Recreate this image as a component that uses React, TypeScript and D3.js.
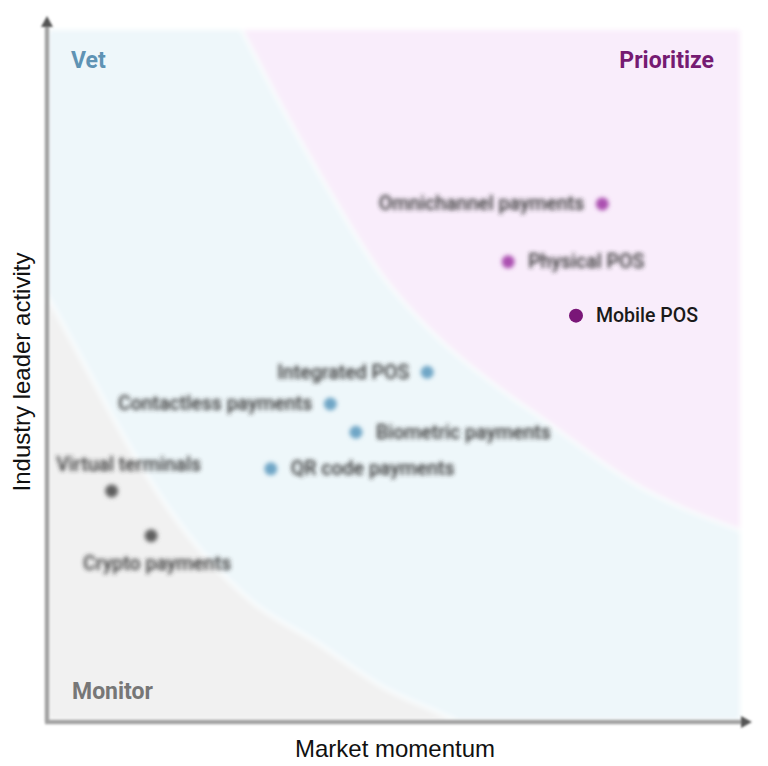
import React from 'react';
import * as d3 from 'd3';

// ---- data ----
const itemNames = [
  'Omnichannel payments',
  'Physical POS',
  'Mobile POS',
  'Integrated POS',
  'Contactless payments',
  'Biometric payments',
  'QR code payments',
  'Virtual terminals',
  'Crypto payments',
];
const itemMomentum = [8.01, 6.65, 7.63, 5.48, 4.08, 4.45, 3.22, 0.92, 1.49];
const itemActivity = [7.48, 6.64, 5.86, 5.04, 4.58, 4.17, 3.64, 3.32, 2.67];
const itemZone = ['prioritize', 'prioritize', 'prioritize', 'vet', 'vet', 'vet', 'vet', 'monitor', 'monitor'];
const itemLabelSide = ['left', 'right', 'right', 'left', 'left', 'right', 'right', 'above', 'below'];
const highlighted = ['Mobile POS'];

const prioritizeBoundaryX = [2.8, 3.35, 4.08, 4.8, 5.52, 6.49, 7.11, 8.55, 10];
const prioritizeBoundaryY = [10, 8.94, 7.64, 6.48, 5.65, 4.83, 4.39, 3.38, 2.75];
const monitorBoundaryX = [0, 0.61, 1.18, 1.76, 2.92, 3.89, 4.84, 5.66, 5.88];
const monitorBoundaryY = [6.13, 5.0, 3.96, 3.04, 1.74, 1.12, 0.48, 0.1, 0];

const zoneNames = ['Vet', 'Prioritize', 'Monitor'];
const axisTitles = ['Market momentum', 'Industry leader activity'];

const W = 768;
const H = 766;
const plot = { left: 48, right: 740, top: 30, bottom: 720 };

const zoneColors: Record<string, string> = {
  vet: '#eef7fa',
  prioritize: '#f9edfb',
  monitor: '#f1f1f1',
};
const dotColors: Record<string, string> = {
  vet: '#6fa6c6',
  prioritize: '#ab50b0',
  monitor: '#5e5e5e',
};

export default function App() {
  const x = d3.scaleLinear().domain([0, 10]).range([plot.left, plot.right]);
  const y = d3.scaleLinear().domain([0, 10]).range([plot.bottom, plot.top]);

  const line = d3
    .line<[number, number]>()
    .x((d) => x(d[0]))
    .y((d) => y(d[1]))
    .curve(d3.curveMonotoneX);

  const prioPts: [number, number][] = prioritizeBoundaryX.map((v, i) => [v, prioritizeBoundaryY[i]]);
  const monPts: [number, number][] = monitorBoundaryX.map((v, i) => [v, monitorBoundaryY[i]]);
  const prioLine = line(prioPts) as string;
  const monLine = line(monPts) as string;
  const prioArea = `${prioLine}L${x(10)},${y(10)}Z`;
  const monArea = `${monLine}L${x(0)},${y(0)}Z`;

  const items = itemNames.map((n, i) => ({
    name: n,
    cx: x(itemMomentum[i]),
    cy: y(itemActivity[i]),
    zone: itemZone[i],
    side: itemLabelSide[i],
    hi: highlighted.includes(n),
  }));

  return (
    <svg
      width={W}
      height={H}
      style={{ position: 'absolute', left: 0, top: 0, background: '#fff' }}
      fontFamily="Roboto, sans-serif"
    >
      <defs>
        <filter id="soft" x="-5%" y="-5%" width="110%" height="110%">
          <feGaussianBlur stdDeviation="2.5" />
        </filter>
        <filter id="blurText" x="-10%" y="-50%" width="120%" height="200%">
          <feGaussianBlur stdDeviation="2.3" />
        </filter>
        <filter id="blurDot" x="-100%" y="-100%" width="300%" height="300%">
          <feGaussianBlur stdDeviation="2" />
        </filter>
        <filter id="axisBlur" x="-20%" y="-20%" width="140%" height="140%">
          <feGaussianBlur stdDeviation="1.2" />
        </filter>
        <clipPath id="plotClip">
          <rect x={plot.left} y={plot.top} width={plot.right - plot.left} height={plot.bottom - plot.top} />
        </clipPath>
      </defs>

      {/* zones */}
      <g filter="url(#soft)">
        <rect
          x={plot.left}
          y={plot.top}
          width={plot.right - plot.left}
          height={plot.bottom - plot.top}
          fill={zoneColors.vet}
        />
        <g clipPath="url(#plotClip)">
          <path d={prioArea} fill={zoneColors.prioritize} />
          <path d={monArea} fill={zoneColors.monitor} />
          <path d={prioLine} fill="none" stroke="#f9fcfd" strokeWidth={4} />
          <path d={monLine} fill="none" stroke="#f9fcfd" strokeWidth={4} />
        </g>
      </g>

      {/* zone labels */}
      <text x={71} y={68} fontSize={23} fontWeight={700} fill="#5e93b4">
        {zoneNames[0]}
      </text>
      <text x={714} y={68} fontSize={23} fontWeight={700} fill="#761b72" textAnchor="end">
        {zoneNames[1]}
      </text>
      <text x={72} y={699} fontSize={23} fontWeight={700} fill="#777">
        {zoneNames[2]}
      </text>

      {/* axes */}
      <g filter="url(#axisBlur)">
        <line x1={47} y1={24} x2={47} y2={722} stroke="#a3a3a3" strokeWidth={4.5} />
        <line x1={45} y1={722} x2={744} y2={722} stroke="#a3a3a3" strokeWidth={4.5} />
        <path d="M47,16 L53,27 L41,27 Z" fill="#555" />
        <path d="M752,722 L741,716 L741,728 Z" fill="#555" />
      </g>

      {/* axis titles */}
      <text x={395} y={757} fontSize={24} textAnchor="middle" fill="#111" fontFamily="'Liberation Sans', Arial, sans-serif">
        {axisTitles[0]}
      </text>
      <text
        transform="translate(30,372) rotate(-90)"
        fontSize={24}
        textAnchor="middle"
        fill="#111"
        fontFamily="'Liberation Sans', Arial, sans-serif"
      >
        {axisTitles[1]}
      </text>

      {/* items */}
      {items.map((d) => {
        let tx = d.cx;
        let ty = d.cy + 6.5;
        let anchor: 'start' | 'end' | 'middle' = 'start';
        if (d.side === 'left') {
          tx = d.cx - 18;
          anchor = 'end';
        } else if (d.side === 'right') {
          tx = d.cx + 20;
        } else if (d.side === 'above') {
          tx = d.cx + 17;
          ty = d.cy - 20;
          anchor = 'middle';
        } else {
          tx = d.cx + 6;
          ty = d.cy + 34;
          anchor = 'middle';
        }
        return (
          <g key={d.name}>
            <circle
              cx={d.cx}
              cy={d.cy}
              r={d.hi ? 7 : 6.5}
              fill={d.hi ? '#7a1678' : dotColors[d.zone]}
              filter={d.hi ? undefined : 'url(#blurDot)'}
            />
            <text
              x={tx}
              y={ty}
              fontSize={19.5}
              fontWeight={d.hi ? 500 : 500}
              fill={d.hi ? '#1a1a1a' : '#333'}
              textAnchor={anchor}
              filter={d.hi ? undefined : 'url(#blurText)'}
            >
              {d.name}
            </text>
          </g>
        );
      })}
    </svg>
  );
}
